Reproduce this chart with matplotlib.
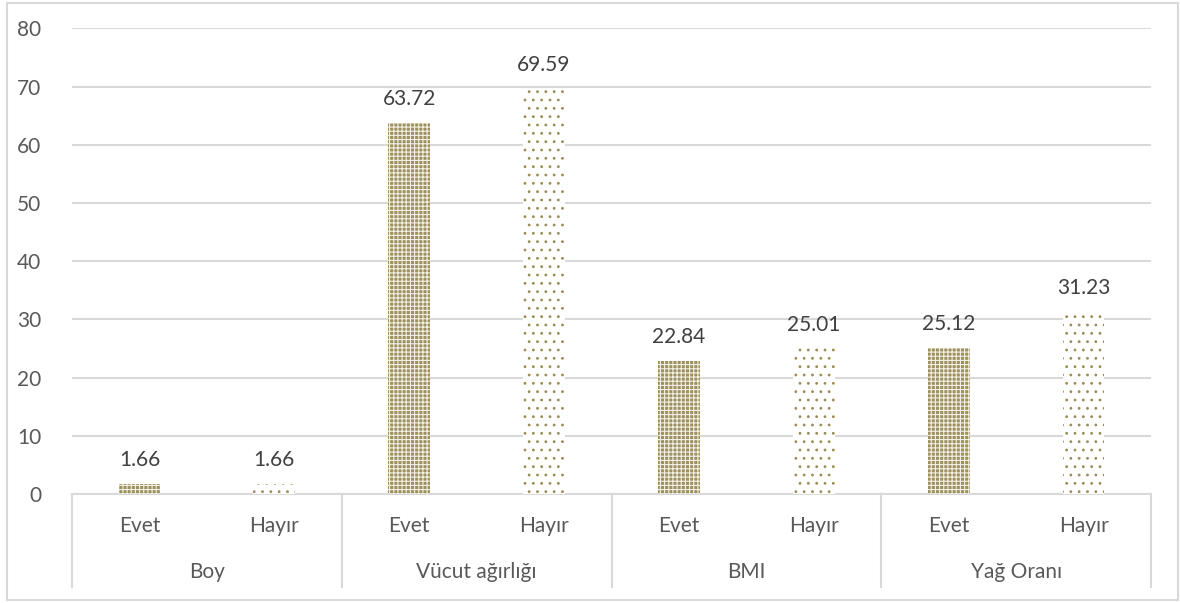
import matplotlib
matplotlib.use("Agg")
import matplotlib.pyplot as plt
from matplotlib.patches import Rectangle
import matplotlib.transforms as mtransforms
import numpy as np

# Data
groups = ["Boy", "Vücut ağırlığı", "BMI", "Yağ Oranı"]
answers = ["Evet", "Hayır"]
evet_values = [1.66, 63.72, 22.84, 25.12]
hayir_values = [1.66, 69.59, 25.01, 31.23]
y_ticks = [0, 10, 20, 30, 40, 50, 60, 70, 80]

plt.rcParams["font.family"] = ["Lato", "DejaVu Sans"]
plt.rcParams["hatch.linewidth"] = 0.8

W, H = 1180, 603
fig = plt.figure(figsize=(W / 100, H / 100), dpi=100)
fig.patch.set_facecolor("white")

left_px, right_px, top_px, bottom_px = 72, 1151, 28.4, 494
ax = fig.add_axes([left_px / W, 1 - bottom_px / H,
                   (right_px - left_px) / W, (bottom_px - top_px) / H])

text_color = "#595959"
grid_color = "#d9d9d9"
olive = "#9a8c55"
fs = 15

n_groups = len(groups)
n_slots = n_groups * len(answers)
x_evet = np.arange(n_groups) * 2 + 0.5
x_hayir = np.arange(n_groups) * 2 + 1.5
bar_w = 0.31

ax.bar(x_evet, evet_values, width=bar_w, facecolor="#9e9160",
       edgecolor="#f2efe4", hatch="++++", linewidth=0, zorder=3)
ax.bar(x_hayir, hayir_values, width=bar_w, facecolor="white",
       edgecolor=olive, hatch="..", linewidth=0, zorder=3)

for xs, vals in ((x_evet, evet_values), (x_hayir, hayir_values)):
    for x, v in zip(xs, vals):
        ax.annotate(f"{v:.2f}", (x, v), xytext=(0, 10), textcoords="offset points",
                    ha="center", va="bottom", fontsize=fs, color="#404040")

ax.set_xlim(0, n_slots)
ax.set_ylim(0, 80)
ax.set_yticks(y_ticks)
ax.set_yticklabels([str(t) for t in y_ticks], fontsize=fs, color=text_color)
ax.tick_params(axis="y", length=0, pad=22)
ax.set_xticks([])
ax.yaxis.grid(True, color=grid_color, linewidth=1.5, zorder=0)
ax.set_axisbelow(True)
for s in ("top", "right", "left"):
    ax.spines[s].set_visible(False)
ax.spines["bottom"].set_color(grid_color)
ax.spines["bottom"].set_linewidth(1.5)

# Two-level category axis below the plot
trans = mtransforms.blended_transform_factory(ax.transData, ax.transAxes)
ax_h = bottom_px - top_px
y_tick_row = -(526 - bottom_px) / ax_h
y_group_row = -(572 - bottom_px) / ax_h
y_box_bottom = -(587 - bottom_px) / ax_h

for g in range(n_groups + 1):
    ax.plot([2 * g, 2 * g], [0, y_box_bottom], transform=trans, color=grid_color,
            linewidth=1.5, clip_on=False)

for xs, lab in ((x_evet, answers[0]), (x_hayir, answers[1])):
    for x in xs:
        ax.text(x, y_tick_row, lab, transform=trans, ha="center", va="center",
                fontsize=fs, color=text_color)
for g, name in enumerate(groups):
    ax.text(2 * g + 1, y_group_row, name, transform=trans, ha="center", va="center",
            fontsize=fs, color=text_color)

# Chart border
fig.patches.append(Rectangle((7 / W, 3 / H), (1178 - 7) / W, (600 - 3) / H,
                             transform=fig.transFigure, fill=False,
                             edgecolor=grid_color, linewidth=1.5))

fig.savefig("out.png", dpi=100)
